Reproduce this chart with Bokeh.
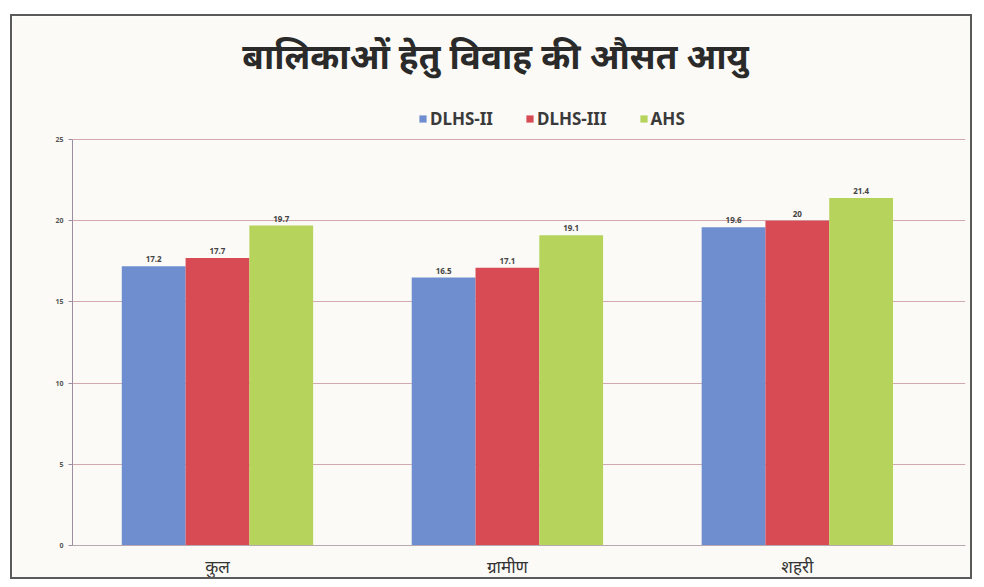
from bokeh.plotting import figure
from bokeh.models import ColumnDataSource, Range1d, Legend, LegendItem, Label, FixedTicker, LabelSet
from bokeh.transform import dodge
from bokeh.core.properties import value
from bokeh.embed import file_html
from bokeh.resources import INLINE

title = "बालिकाओं हेतु विवाह की औसत आयु"
categories = ["कुल", "ग्रामीण", "शहरी"]
series = ["DLHS-II", "DLHS-III", "AHS"]
dlhs2 = [17.2, 16.5, 19.6]
dlhs3 = [17.7, 17.1, 20]
ahs = [19.7, 19.1, 21.4]
y_ticks = [0, 5, 10, 15, 20, 25]
colors = ["#6f8ed0", "#d84b55", "#b6d35c"]

FONT = "Noto Sans"
BG = "#fbfaf6"

pos = list(range(len(categories)))
src = ColumnDataSource(dict(x=pos, s0=dlhs2, s1=dlhs3, s2=ahs,
                            l0=[str(v) for v in dlhs2], l1=[str(v) for v in dlhs3], l2=[str(v) for v in ahs]))

W, H = 962, 565
p = figure(width=W, height=H, x_range=Range1d(-0.5, 2.58), y_range=Range1d(0, 32.57),
           output_backend="svg", toolbar_location=None,
           min_border_left=60, min_border_right=9, min_border_top=0, min_border_bottom=36)
p.background_fill_color = BG
p.border_fill_color = BG
p.outline_line_color = None
p.styles = {"border": "2px solid #5a5a5a", "margin-left": "10px", "margin-top": "14px"}

bw = 0.22
renderers = []
for i, (key, col) in enumerate(zip(["s0", "s1", "s2"], colors)):
    off = (i - 1) * bw
    r = p.vbar(x=dodge("x", off), top=key, width=bw, source=src,
               fill_color=col, line_color=None)
    renderers.append(r)
    lbl = LabelSet(x=dodge("x", off), y=key, text="l%d" % i, source=src,
                   text_align="center", text_baseline="bottom", y_offset=4,
                   text_font=value(FONT), text_font_size="8px", text_font_style="bold",
                   text_color="#444444")
    p.add_layout(lbl)

legend = Legend(items=[LegendItem(label=s, renderers=[r]) for s, r in zip(series, renderers)],
                orientation="horizontal", location=(346, 415),
                label_text_font=FONT, label_text_font_size="17px", label_text_font_style="bold",
                label_text_color="#3a3a3a", glyph_width=9, glyph_height=9, spacing=32,
                label_standoff=3, background_fill_alpha=0, border_line_color=None,
                padding=2, margin=0)
p.add_layout(legend, "center")

p.add_layout(Label(x=423, y=490, x_units="screen", y_units="screen", text=title,
                   text_align="center", text_baseline="middle", text_font=FONT,
                   text_font_size="35px", text_font_style="bold", text_color="#2a2a2a"))

p.yaxis.ticker = FixedTicker(ticks=y_ticks)
p.yaxis.bounds = (0, 25)
p.yaxis.major_label_text_font = FONT
p.yaxis.major_label_text_font_size = "7px"
p.yaxis.major_label_text_font_style = "bold"
p.yaxis.major_label_text_color = "#555555"
p.yaxis.axis_line_color = "#9a8fa0"
p.yaxis.major_tick_line_color = "#9a8fa0"
p.yaxis.major_tick_in = 0
p.yaxis.major_tick_out = 4
p.yaxis.minor_tick_line_color = None

p.xaxis.ticker = FixedTicker(ticks=pos)
p.xaxis.major_label_overrides = {i: c for i, c in zip(pos, categories)}
p.xaxis.major_label_text_font = FONT
p.xaxis.major_label_text_font_size = "17px"
p.xaxis.major_label_text_color = "#333333"
p.xaxis.axis_line_color = "#b8a8b0"
p.xaxis.major_tick_line_color = None
p.xaxis.minor_tick_line_color = None
p.xaxis.major_label_standoff = 3

p.ygrid.ticker = FixedTicker(ticks=y_ticks)
p.ygrid.grid_line_color = "#d2a9ad"
p.ygrid.bounds = (0, 25)
p.xgrid.grid_line_color = None

open("out.html", "w").write(file_html(p, INLINE))
